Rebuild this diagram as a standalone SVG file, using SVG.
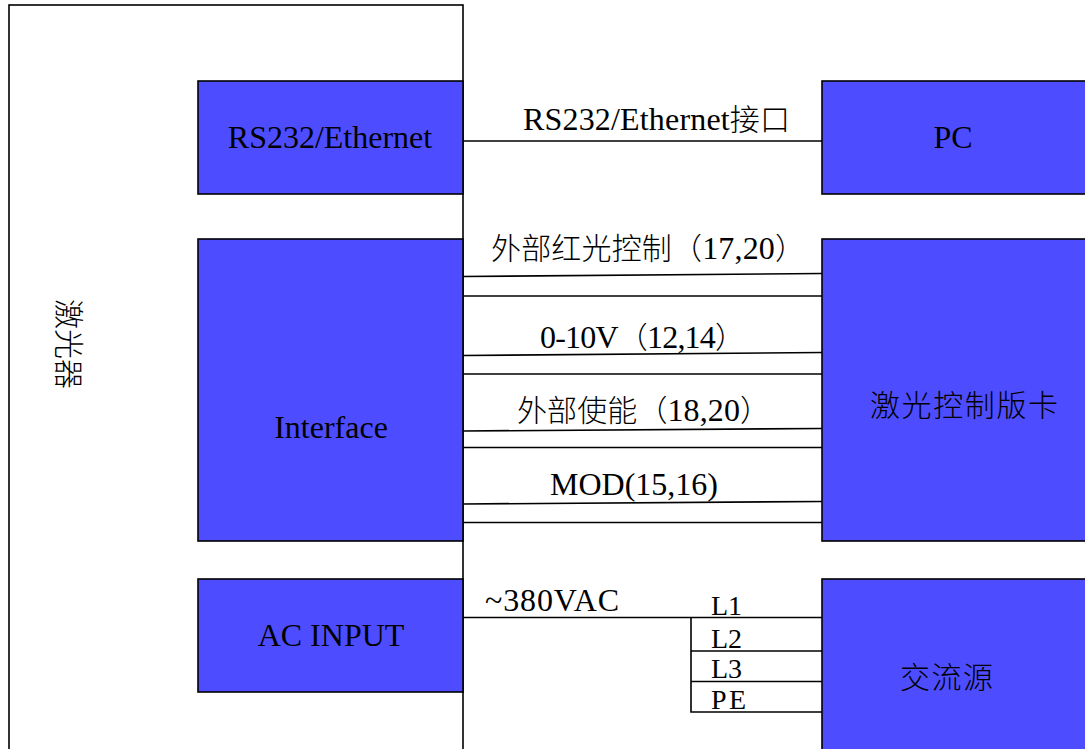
<svg xmlns="http://www.w3.org/2000/svg" width="1085" height="749" viewBox="0 0 1085 749">
<style>
.box{fill:#4d4dff;stroke:#000;stroke-width:1.6}
.outer{fill:#fff;stroke:#000;stroke-width:1.6}
.ln{stroke:#000;stroke-width:1.6;fill:none}
text{font-family:"Liberation Serif","Noto Sans CJK SC",serif;font-size:32px;fill:#000;font-weight:300}
.c{font-size:30px}
.p{font-size:28px}
.m{text-anchor:middle}
</style>
<rect width="1085" height="749" fill="#fff"/>
<g id="laser">
<rect class="outer" x="9" y="5" width="454" height="760"/>
<text class="m c" transform="translate(58,344) rotate(90)">激光器</text>
</g>
<g id="rs232">
<rect class="box" x="198" y="81" width="265" height="113"/>
<text class="m" x="330" y="148">RS232/Ethernet</text>
</g>
<g id="interface">
<rect class="box" x="198" y="239" width="265" height="302"/>
<text class="m" x="331" y="438">Interface</text>
</g>
<g id="acinput">
<rect class="box" x="198" y="579" width="265" height="113"/>
<text class="m" x="331" y="646">AC INPUT</text>
</g>
<g id="pc">
<rect class="box" x="822" y="81" width="270" height="113"/>
<text class="m" x="953" y="148">PC</text>
</g>
<g id="card">
<rect class="box" x="822" y="239" width="270" height="302"/>
<text class="c" x="870" y="416" textLength="188">激光控制版卡</text>
</g>
<g id="acsource">
<rect class="box" x="822" y="579" width="270" height="180"/>
<text class="c" x="900" y="688" textLength="93">交流源</text>
</g>
<g id="connectors">
<line class="ln" x1="463" y1="141" x2="822" y2="141"/>
<line class="ln" x1="463" y1="276.5" x2="822" y2="273.5"/>
<line class="ln" x1="463" y1="296" x2="822" y2="296"/>
<line class="ln" x1="463" y1="355.5" x2="822" y2="352.5"/>
<line class="ln" x1="463" y1="374" x2="822" y2="374"/>
<line class="ln" x1="463" y1="431" x2="822" y2="428.5"/>
<line class="ln" x1="463" y1="447.5" x2="822" y2="447.5"/>
<line class="ln" x1="463" y1="504" x2="822" y2="501.5"/>
<line class="ln" x1="463" y1="522.5" x2="822" y2="522.5"/>
<line class="ln" x1="463" y1="617.5" x2="822" y2="617.5"/>
<polyline class="ln" points="691,617.5 691,712 822,712"/>
<line class="ln" x1="691" y1="651" x2="822" y2="651"/>
<line class="ln" x1="691" y1="681.5" x2="822" y2="681.5"/>
<text x="523" y="130" textLength="267">RS232/Ethernet<tspan class="c">接口</tspan></text>
<text x="491" y="259" textLength="314"><tspan class="c">外部红光控制（</tspan>17,20<tspan class="c">）</tspan></text>
<text x="540" y="348" textLength="205">0-10V<tspan class="c">（</tspan>12,14<tspan class="c">）</tspan></text>
<text x="517" y="421" textLength="253"><tspan class="c">外部使能（</tspan>18,20<tspan class="c">）</tspan></text>
<text x="550" y="495" textLength="168">MOD(15,16)</text>
<text x="485" y="611" textLength="134">~380VAC</text>
<text class="p" x="711" y="615" textLength="31">L1</text>
<text class="p" x="711" y="648" textLength="31">L2</text>
<text class="p" x="711" y="678" textLength="31">L3</text>
<text class="p" x="711" y="709" textLength="35">PE</text>
</g>
</svg>
